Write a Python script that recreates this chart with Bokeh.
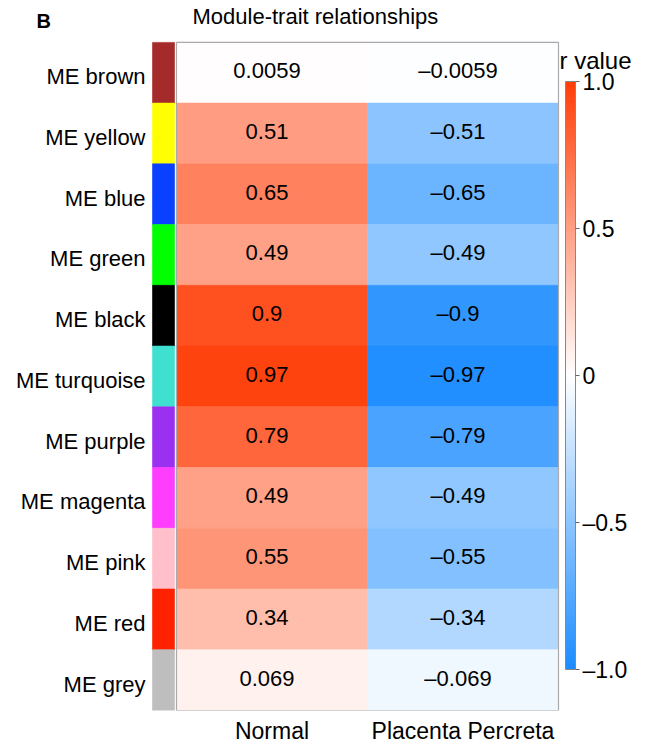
from bokeh.plotting import figure
from bokeh.models import (ColumnDataSource, LinearColorMapper, ColorBar, FixedTicker,
                          Range1d, Label)
from bokeh.transform import transform
from bokeh.embed import file_html
from bokeh.resources import INLINE

# ---------------- data ----------------
modules = ["ME brown", "ME yellow", "ME blue", "ME green", "ME black", "ME turquoise",
           "ME purple", "ME magenta", "ME pink", "ME red", "ME grey"]
module_colors = ["#A52A2A", "#FFFF00", "#0A40FF", "#00FF00", "#000000", "#40E0D0",
                 "#9B30F0", "#FF3DFF", "#FFC0CB", "#FF2200", "#BEBEBE"]
traits = ["Normal", "Placenta Percreta"]
r_normal = [0.0059, 0.51, 0.65, 0.49, 0.9, 0.97, 0.79, 0.49, 0.55, 0.34, 0.069]
r_percreta = [-0.0059, -0.51, -0.65, -0.49, -0.9, -0.97, -0.79, -0.49, -0.55, -0.34, -0.069]
cbar_ticks = [-1.0, -0.5, 0.0, 0.5, 1.0]
cbar_labels = ["\u20131.0", "\u20130.5", "0", "0.5", "1.0"]
title_text = "Module-trait relationships"
panel_letter = "B"
cbar_title = "r value"

FONT = "Liberation Sans"
n = len(modules)
m = len(traits)

# ---------------- layout constants (pixels) ----------------
W, H = 646, 746
BOTTOM_PANEL = 34            # room for trait labels under the heatmap
FRAME_H = H - BOTTOM_PANEL   # frame spans the rest of the canvas
BOX_LEFT, BOX_TOP = 176, 42  # heatmap box, top-left corner
COL_PX = 191.0               # width of one trait column
ROW_PX = (FRAME_H - BOX_TOP) / n

# ---------------- palette (blue - white - red) ----------------
def ramp(c1, c2, k):
    return ["#%02x%02x%02x" % tuple(int(round(c1[i] + (c2[i] - c1[i]) * t / (k - 1))) for i in range(3))
            for t in range(k)]

BLUE, WHITE, RED = (28, 140, 255), (255, 255, 255), (255, 62, 8)
palette = ramp(BLUE, WHITE, 128) + ramp(WHITE, RED, 128)[1:]
mapper = LinearColorMapper(palette=palette, low=-1, high=1)

# ---------------- sources ----------------
row_y = [n - 1 - i for i in range(n)]

def fmt(v):
    s = ("%g" % abs(v))
    return ("\u2013" + s) if v < 0 else s

xs, ys, rs, txt = [], [], [], []
for j, col in enumerate([r_normal, r_percreta]):
    for i, v in enumerate(col):
        xs.append(j)
        ys.append(row_y[i])
        rs.append(v)
        txt.append(fmt(v))
cells = ColumnDataSource(dict(x=xs, y=ys, r=rs, label=txt))

STRIP_W = 22 / COL_PX
GAP = 2 / COL_PX
strip_x = -0.5 - GAP - STRIP_W / 2
strip = ColumnDataSource(dict(y=row_y, color=module_colors, name=modules))

x_range = Range1d(-0.5 - BOX_LEFT / COL_PX, -0.5 + (W - BOX_LEFT) / COL_PX)
y_range = Range1d(-0.5, -0.5 + FRAME_H / ROW_PX)

p = figure(width=W, height=H, output_backend="svg", toolbar_location=None,
           x_range=x_range, y_range=y_range, y_axis_location=None,
           min_border_left=0, min_border_right=0, min_border_top=0,
           min_border_bottom=BOTTOM_PANEL)
p.grid.visible = False
p.outline_line_color = None
p.background_fill_color = "white"
p.border_fill_color = "white"

# heatmap cells
p.rect(x="x", y="y", width=1, height=1, source=cells,
       fill_color=transform("r", mapper), line_color=transform("r", mapper), line_width=0.6)
# module colour strip
p.rect(x=strip_x, y="y", width=STRIP_W, height=1, source=strip,
       fill_color="color", line_color="color", line_width=0.6)
# box around heatmap
p.quad(left=-0.5, right=m - 0.5, bottom=-0.5, top=n - 0.5,
       fill_color=None, line_color="#AAAAAA", line_width=1.2)
# values
p.text(x="x", y="y", text="label", source=cells, text_align="center", text_baseline="middle",
       x_offset=-5, y_offset=-2, text_font=dict(value=FONT), text_font_size="22px",
       text_color="black")
# module names
p.text(x=strip_x - STRIP_W / 2, y="y", text="name", source=strip, text_align="right",
       text_baseline="middle", x_offset=-7, y_offset=4, text_font=dict(value=FONT),
       text_font_size="22px", text_color="black")

# trait axis
p.xaxis.ticker = FixedTicker(ticks=list(range(m)))
p.xaxis.major_label_overrides = {j: traits[j] for j in range(m)}
ax = p.xaxis[0]
ax.axis_line_color = None
ax.major_tick_line_color = None
ax.minor_tick_line_color = None
ax.major_tick_out = 0
ax.major_tick_in = 0
ax.minor_tick_out = 0
ax.minor_tick_in = 0
ax.major_label_text_font = FONT
ax.major_label_text_font_size = "23px"
ax.major_label_text_color = "black"
ax.major_label_standoff = 7

# title, panel letter and colour-bar title (screen units from frame bottom-left)
p.add_layout(Label(x=192, y=FRAME_H - 18, x_units="screen", y_units="screen", text=title_text,
                   text_font=FONT, text_font_size="22px", text_color="black",
                   text_baseline="alphabetic"))
p.add_layout(Label(x=36, y=FRAME_H - 22, x_units="screen", y_units="screen", text=panel_letter,
                   text_font=FONT, text_font_size="20px", text_font_style="bold",
                   text_color="black", text_baseline="alphabetic"))
p.add_layout(Label(x=559, y=FRAME_H - 62, x_units="screen", y_units="screen", text=cbar_title,
                   text_font=FONT, text_font_size="24px", text_color="black",
                   text_baseline="alphabetic"))

# colour bar
cb = ColorBar(color_mapper=mapper, orientation="vertical", width=10, height=588,
              ticker=FixedTicker(ticks=cbar_ticks),
              major_label_overrides={cbar_ticks[k]: cbar_labels[k] for k in range(len(cbar_ticks))},
              major_label_text_font=FONT, major_label_text_font_size="23px",
              major_label_text_color="black",
              major_tick_in=0, major_tick_out=4, major_tick_line_color="#666666",
              bar_line_color="#888888", label_standoff=3,
              location=(565, FRAME_H - 671), margin=0, padding=0,
              background_fill_color=None, border_line_color=None)
p.add_layout(cb, "center")

open("out.html", "w").write(file_html(p, INLINE))
